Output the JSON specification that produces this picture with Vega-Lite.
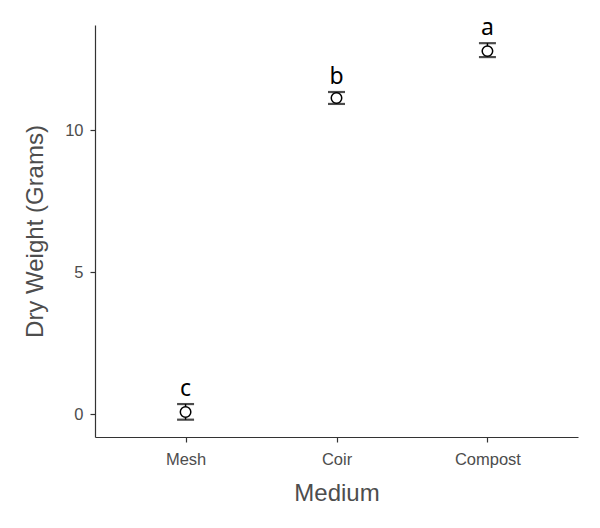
{
  "$schema": "https://vega.github.io/schema/vega-lite/v6.json",
  "width": 483,
  "height": 412,
  "autosize": "none",
  "padding": {"left": 95, "top": 25, "right": 22, "bottom": 91},
  "background": "white",
  "config": {
    "view": {"stroke": null},
    "axis": {
      "domainColor": "#333333",
      "domainWidth": 1.2,
      "tickColor": "#333333",
      "tickSize": 5,
      "tickWidth": 1.2,
      "labelColor": "#4d4d4d",
      "labelFont": "Liberation Sans",
      "labelFontSize": 16.5,
      "titleFont": "Liberation Sans",
      "titleFontSize": 24,
      "titleFontWeight": "normal",
      "titleColor": "#4d4d4d",
      "grid": false
    }
  },
  "data": {
    "values": [
      {"Medium": "Mesh", "mean": 0.07, "lo": -0.2, "hi": 0.35, "letter": "c"},
      {"Medium": "Coir", "mean": 11.13, "lo": 10.92, "hi": 11.34, "letter": "b"},
      {"Medium": "Compost", "mean": 12.78, "lo": 12.57, "hi": 13.06, "letter": "a"}
    ]
  },
  "encoding": {
    "x": {
      "field": "Medium",
      "type": "nominal",
      "sort": ["Mesh", "Coir", "Compost"],
      "scale": {"type": "point", "padding": 0.6},
      "axis": {"labelAngle": 0, "labelPadding": 9, "titlePadding": 14, "title": "Medium"}
    }
  },
  "layer": [
    {
      "mark": {"type": "rule", "color": "black", "strokeWidth": 1.5},
      "encoding": {
        "y": {
          "field": "lo",
          "type": "quantitative",
          "scale": {"domain": [-0.81, 13.7], "nice": false, "zero": false},
          "axis": {"values": [0, 5, 10], "title": "Dry Weight (Grams)", "labelPadding": 7, "titlePadding": 17}
        },
        "y2": {"field": "hi"}
      }
    },
    {
      "mark": {"type": "tick", "color": "black", "size": 17, "thickness": 2.2, "orient": "horizontal"},
      "encoding": {"y": {"field": "lo", "type": "quantitative"}}
    },
    {
      "mark": {"type": "tick", "color": "black", "size": 17, "thickness": 2.2, "orient": "horizontal"},
      "encoding": {"y": {"field": "hi", "type": "quantitative"}}
    },
    {
      "mark": {"type": "point", "shape": "circle", "filled": true, "fill": "white", "stroke": "black", "strokeWidth": 1.5, "size": 110, "opacity": 1},
      "encoding": {"y": {"field": "mean", "type": "quantitative"}}
    },
    {
      "mark": {"type": "text", "font": "Noto Sans", "fontSize": 23, "color": "black", "baseline": "alphabetic", "dy": -8},
      "encoding": {
        "y": {"field": "hi", "type": "quantitative"},
        "text": {"field": "letter"}
      }
    }
  ]
}
